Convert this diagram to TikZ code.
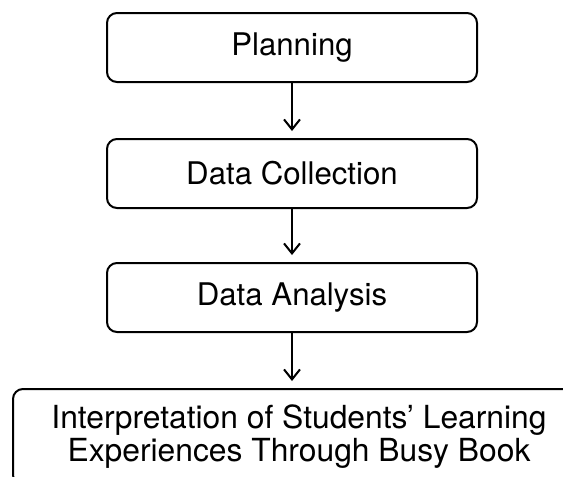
\documentclass[tikz,border=0pt]{standalone}
\usepackage{fontspec}
\setmainfont{TeX Gyre Heros}
\usetikzlibrary{positioning,arrows.meta}

\begin{document}
\begin{tikzpicture}[x=0.5pt,y=-0.5pt,>={Straight Barb[length=5pt,width=8pt]},
                    line width=1pt,node distance=27.5pt,
                    stage/.style={draw,rounded corners=5pt,line width=1pt,
                      minimum width=185pt,minimum height=34.5pt,
                      font=\fontsize{15.6}{16.5}\selectfont}]

        \useasboundingbox (0,0) rectangle (563,477);

        % Define stages
        \node[stage] (plan) at (292,47.5) {Planning};
        \node[stage] (coll) [below=of plan] {Data Collection};
        \node[stage] (ana) [below=26.5pt of coll] {Data Analysis};
        \node[stage,minimum width=286pt,minimum height=48pt,align=center,
              font=\fontsize{15.9}{16.5}\selectfont]
            (interp) [below=of ana,xshift=3.5pt]
            {Interpretation of Students’ Learning\\Experiences Through Busy Book};

        % Draw arrows
        \draw[->,shorten >=3.5pt] (plan) -- (coll);
        \draw[->,shorten >=3.5pt] (coll) -- (ana);
        \draw[->,shorten >=3.5pt] (ana.south) -- (ana.south |- interp.north);

        \end{tikzpicture}
\end{document}
